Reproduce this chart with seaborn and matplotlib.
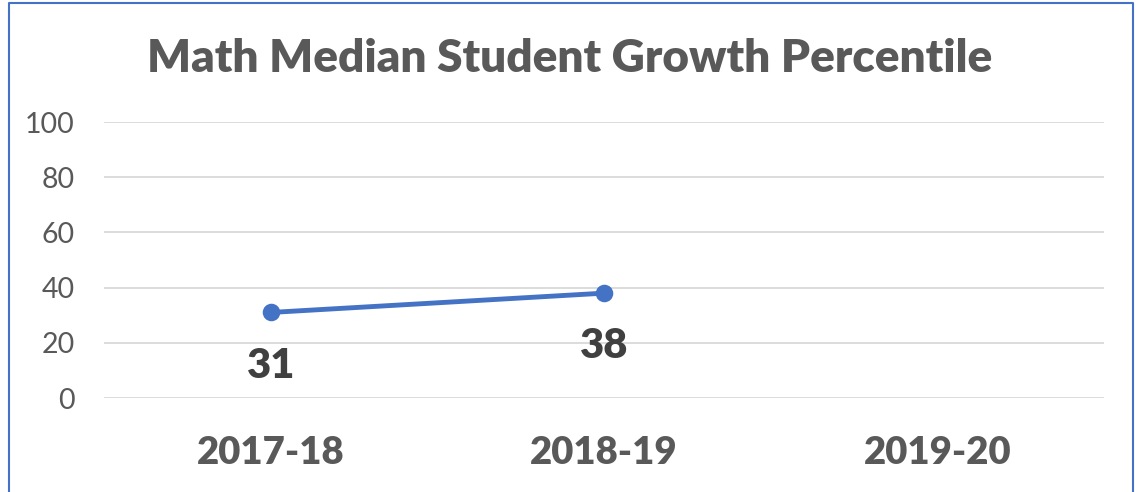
import pandas as pd
import numpy as np
import matplotlib
matplotlib.use("Agg")
import matplotlib.pyplot as plt
from matplotlib.lines import Line2D
import seaborn as sns

# --- data ---
years = ["2017-18", "2018-19", "2019-20"]
sgp = [31, 38, np.nan]
y_ticks = [0, 20, 40, 60, 80, 100]

df = pd.DataFrame({"Year": years, "SGP": sgp})

# --- style ---
sns.set_style("white")
plt.rcParams["font.family"] = ["Lato", "DejaVu Sans"]

gray = "#595959"
blue = "#4472C4"

fig = plt.figure(figsize=(11.39, 4.92), dpi=100)
ax = fig.add_axes([0.0913, 0.191, 0.878, 0.561])

sns.pointplot(data=df, x="Year", y="SGP", order=years, color=blue,
              errorbar=None, markers="o", markersize=10, linewidth=3.5, ax=ax)

# data labels below the points
for i, v in enumerate(sgp):
    if not np.isnan(v):
        ax.annotate(f"{v:.0f}", (i, v), xytext=(0, -47), textcoords="offset points",
                    ha="center", va="baseline", fontsize=30, fontweight="heavy", color="#404040")

ax.set_xlim(-0.5, 2.5)
ax.set_ylim(0, 100)
ax.set_yticks(y_ticks)
ax.yaxis.grid(True, color="#d9d9d9", linewidth=1.3)
ax.set_axisbelow(True)
for s in ax.spines.values():
    s.set_visible(False)
ax.tick_params(axis="y", length=0, pad=21, labelsize=20.5, labelcolor=gray)
ax.tick_params(axis="x", length=0, pad=27, labelsize=27.5, labelcolor=gray)
for lab in ax.get_xticklabels():
    lab.set_fontweight("heavy")
ax.set_xlabel("")
ax.set_ylabel("")

fig.text(0.5, 0.882, "Math Median Student Growth Percentile", ha="center", va="center",
         fontsize=33, fontweight="heavy", color=gray)

# chart border (left, top, right)
fig.add_artist(Line2D([0.0075, 0.0075, 0.9947, 0.9947], [0.0, 0.994, 0.994, 0.0],
                      transform=fig.transFigure, color=blue, linewidth=1.5))

fig.savefig("out.png", dpi=100)
